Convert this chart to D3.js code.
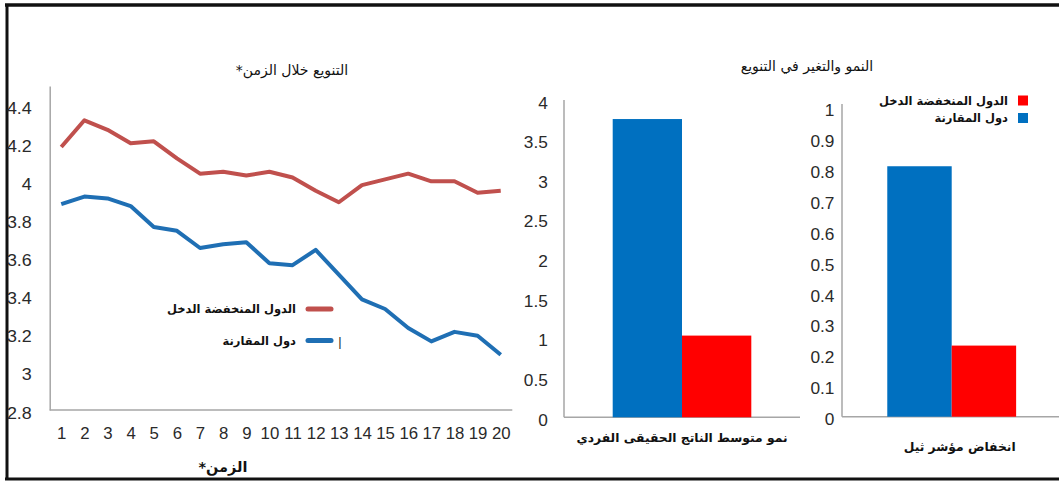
<!DOCTYPE html>
<html>
<head>
<meta charset="utf-8">
<script src="https://cdn.jsdelivr.net/npm/d3@7"></script>
<style>
  html, body { margin: 0; padding: 0; background: #fff; }
  svg { display: block; }
  .num { font-family: "Liberation Sans", Arial, sans-serif; font-size: 16px; fill: #2a2a2a; }
  .ar { font-family: "DejaVu Sans", sans-serif; fill: #111; }
</style>
</head>
<body>
<svg id="chart" width="1059" height="482"></svg>
<script>
// ---- data ----
const periods = ["1","2","3","4","5","6","7","8","9","10","11","12","13","14","15","16","17","18","19","20"];
const lowIncomeSeries = [4.18, 4.32, 4.27, 4.20, 4.21, 4.12, 4.04, 4.05, 4.03, 4.05, 4.02, 3.95, 3.89, 3.98, 4.01, 4.04, 4.00, 4.00, 3.94, 3.95];
const comparisonSeries = [3.88, 3.92, 3.91, 3.87, 3.76, 3.74, 3.65, 3.67, 3.68, 3.57, 3.56, 3.64, 3.51, 3.38, 3.33, 3.23, 3.16, 3.21, 3.19, 3.09];
const lineTicks = [2.8, 3, 3.2, 3.4, 3.6, 3.8, 4, 4.2, 4.4];

const seriesNames = ["الدول المنخفضة الدخل", "دول المقارنة"];
const barSeries = ["comparison", "low"];

const growthCategory = ["نمو متوسط الناتج الحقيقى الفردي"];
const growthComparison = [3.76];
const growthLow = [1.03];
const growthTicks = [0, 0.5, 1, 1.5, 2, 2.5, 3, 3.5, 4];

const theilCategory = ["انخفاض مؤشر ثيل"];
const theilComparison = [0.81];
const theilLow = [0.23];
const theilTicks = [0, 0.1, 0.2, 0.3, 0.4, 0.5, 0.6, 0.7, 0.8, 0.9, 1];

const lineTitle = "التنويع خلال الزمن*";
const lineXTitle = "الزمن*";
const barTitle = "النمو والتغير في التنويع";

// ---- styles ----
const RED_LINE = "#c0504d", BLUE_LINE = "#1f6fb4";
const RED_BAR = "#ff0000", BLUE_BAR = "#0070c0";
const AXIS = "#a6a6a6";

const svg = d3.select("#chart");

// outer frame (open on the right)
const frame = svg.append("g").attr("stroke", "#111").attr("fill", "none");
frame.append("line").attr("x1", 5).attr("x2", 1059).attr("y1", 5).attr("y2", 5).attr("stroke-width", 3.5);
frame.append("line").attr("x1", 7).attr("x2", 7).attr("y1", 4).attr("y2", 480).attr("stroke-width", 3);
frame.append("line").attr("x1", 5).attr("x2", 1059).attr("y1", 479).attr("y2", 479).attr("stroke-width", 3);

function styleAxis(g) {
  g.select(".domain").attr("stroke", AXIS).attr("stroke-width", 1.5);
  g.selectAll(".tick line").remove();
  g.selectAll(".tick text").attr("class", "num").attr("fill", null);
}

// ---- line chart ----
const L = { left: 49.7, right: 512.3, top: 86, bottom: 410 };
const xL = d3.scalePoint().domain(periods).range([L.left, L.right]).padding(0.5);
const yL = d3.scaleLinear().domain([2.8, 4.5]).range([L.bottom, L.top]);

const gyL = svg.append("g").attr("transform", `translate(${L.left},0)`)
  .call(d3.axisLeft(yL).tickValues(lineTicks).tickFormat(d => String(d)).tickSize(0).tickPadding(16));
styleAxis(gyL);
gyL.selectAll(".tick text").attr("dy", "0.5em").attr("transform", "scale(1.12,1)");

const gxL = svg.append("g").attr("transform", `translate(0,${L.bottom})`)
  .call(d3.axisBottom(xL).tickSize(0));
styleAxis(gxL);
gxL.select(".domain").attr("d", `M${L.left},0H${L.right}`);
gxL.selectAll(".tick text").attr("y", 29).attr("dy", 0).attr("transform", "scale(1.05,1)");

const lineGen = d3.line().x((d, i) => xL(periods[i])).y(d => yL(d));
svg.append("path").datum(lowIncomeSeries).attr("d", lineGen)
  .attr("fill", "none").attr("stroke", RED_LINE).attr("stroke-width", 4).attr("stroke-linejoin", "round");
svg.append("path").datum(comparisonSeries).attr("d", lineGen)
  .attr("fill", "none").attr("stroke", BLUE_LINE).attr("stroke-width", 4).attr("stroke-linejoin", "round");

// right-to-left titles
svg.append("text").attr("class", "ar").attr("x", 292).attr("y", 70)
  .attr("direction", "rtl").attr("text-anchor", "middle").attr("dominant-baseline", "central")
  .style("font-size", "14px").text(lineTitle);
svg.append("text").attr("class", "ar").attr("x", 223).attr("y", 467)
  .attr("direction", "rtl").attr("text-anchor", "middle").attr("dominant-baseline", "central")
  .style("font-size", "14.5px").style("font-weight", "bold").text(lineXTitle);

// line legend
const legL = svg.append("g");
[[RED_LINE, seriesNames[0], 309], [BLUE_LINE, seriesNames[1], 340.5]].forEach(([c, name, y]) => {
  legL.append("line").attr("x1", 308).attr("x2", 331).attr("y1", y).attr("y2", y)
    .attr("stroke", c).attr("stroke-width", 5).attr("stroke-linecap", "round");
  legL.append("text").attr("class", "ar").attr("x", 296).attr("y", y)
    .attr("text-anchor", "end").attr("dominant-baseline", "central")
    .style("font-size", "11.5px").style("font-weight", "bold").text(name);
});
legL.append("text").attr("class", "num").attr("x", 340).attr("y", 341)
  .attr("text-anchor", "middle").attr("dominant-baseline", "central")
  .style("font-size", "13px").text("|");

// ---- bar charts ----
function barChart(opts) {
  const { cats, comp, low, ticks, left, right, top, bottom, yMax, axisTop, labelPad, labelY } = opts;
  const x0 = d3.scaleBand().domain(cats).range([left, right]).padding(0.26);
  const x1 = d3.scaleBand().domain(barSeries).range([0, x0.bandwidth()]);
  const y = d3.scaleLinear().domain([0, yMax]).range([bottom, top]);

  const gy = svg.append("g").attr("transform", `translate(${left},0)`)
    .call(d3.axisLeft(y).tickValues(ticks).tickFormat(d => String(d)).tickSize(0).tickPadding(labelPad));
  styleAxis(gy);
  gy.select(".domain").attr("d", `M0,${bottom}V${axisTop}`);
  gy.selectAll(".tick text").attr("dy", "0.5em").attr("transform", "scale(1.08,1)");

  svg.append("line").attr("x1", left).attr("x2", right).attr("y1", bottom).attr("y2", bottom)
    .attr("stroke", AXIS).attr("stroke-width", 1.5);

  const rows = cats.map((c, i) => ({ cat: c, values: [["comparison", comp[i]], ["low", low[i]]] }));
  const grp = svg.append("g").selectAll("g").data(rows).join("g")
    .attr("transform", d => `translate(${x0(d.cat)},0)`);
  grp.selectAll("rect").data(d => d.values).join("rect")
    .attr("x", d => x1(d[0])).attr("width", x1.bandwidth())
    .attr("y", d => y(d[1])).attr("height", d => bottom - y(d[1]))
    .attr("fill", d => d[0] === "comparison" ? BLUE_BAR : RED_BAR);

  svg.append("g").selectAll("text").data(cats).join("text")
    .attr("class", "ar").attr("x", d => x0(d) + x0.bandwidth() / 2 + opts.labelShift).attr("y", labelY)
    .attr("text-anchor", "middle").attr("dominant-baseline", "central")
    .style("font-size", "12.3px").style("font-weight", "bold").text(d => d);
}

barChart({ cats: growthCategory, comp: growthComparison, low: growthLow, ticks: growthTicks,
  left: 564, right: 800, top: 100, bottom: 417.3, yMax: 4, axisTop: 100, labelPad: 15,
  labelY: 438, labelShift: 0 });
barChart({ cats: theilCategory, comp: theilComparison, low: theilLow, ticks: theilTicks,
  left: 842, right: 1061.4, top: 107.5, bottom: 416.7, yMax: 1, axisTop: 104, labelPad: 7,
  labelY: 447, labelShift: 8 });

svg.append("text").attr("class", "ar").attr("x", 807).attr("y", 66)
  .attr("text-anchor", "middle").attr("dominant-baseline", "central")
  .style("font-size", "14px").text(barTitle);

// bar legend (swatch to the right of the label)
const legB = svg.append("g");
[[RED_BAR, seriesNames[0], 100.5], [BLUE_BAR, seriesNames[1], 118]].forEach(([c, name, y]) => {
  legB.append("rect").attr("x", 1018).attr("y", y - 5).attr("width", 10).attr("height", 10).attr("fill", c);
  legB.append("text").attr("class", "ar").attr("x", 1008).attr("y", y)
    .attr("text-anchor", "end").attr("dominant-baseline", "central")
    .style("font-size", "11.5px").style("font-weight", "bold").text(name);
});
</script>
</body>
</html>
